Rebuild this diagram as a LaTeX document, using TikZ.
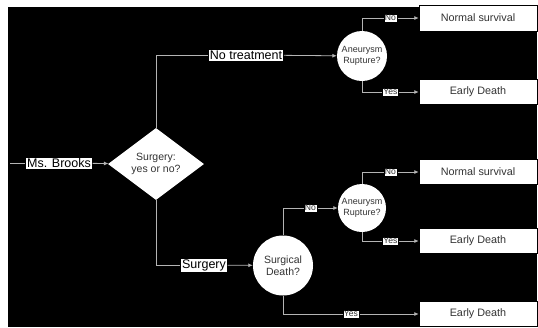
\documentclass[tikz,border=0pt]{standalone}
\usepackage{fontspec}
\setmainfont{Liberation Sans}
\usetikzlibrary{shapes.geometric,arrows.meta}
\definecolor{wirec}{HTML}{B4B4B4}
\definecolor{inkc}{HTML}{333333}

\tikzset{
  wire/.style={draw=wirec, line width=0.8pt},
  arr/.style={wire, -{Latex[length=4.5pt,width=4pt,fill=wirec]}},
  lbl/.style={rectangle, fill=white, draw=black, line width=0.4pt, inner sep=1.5pt,
              text=black, font=\fontsize{12.5}{14}\selectfont},
  tag/.style={rectangle, fill=white, draw=black, line width=0.4pt, inner sep=1.1pt,
              text=inkc, font=\fontsize{8.6}{9.5}\selectfont},
  outcome/.style={rectangle, fill=white, draw=black, line width=0.5pt,
                  minimum width=118, minimum height=25, inner sep=0,
                  text=inkc, font=\fontsize{10.8}{12}\selectfont},
  chance/.style={circle, fill=white, inner sep=0, align=center, text=inkc},
  decision/.style={diamond, fill=white, inner sep=0, minimum width=96, minimum height=72,
                   align=center, text=inkc, font=\fontsize{10.5}{12.5}\selectfont}
}

\begin{document}
\begin{tikzpicture}[x=1pt,y=-1pt]
\useasboundingbox (0,0) rectangle (538,327);
\fill[white] (0,0) rectangle (538,327);
\fill[black] (8,7) rectangle (536.5,327);

% decision and chance nodes
\coordinate (start) at (10,163);
\node[lbl] (brooks) at (59,163) {Ms. Brooks};
\node[decision] (dec) at (156,164) {Surgery:\\yes or no?};
\node[lbl] (notreat) at (246,55) {No treatment};
\node[lbl] (surg) at (204,265) {Surgery};
\node[chance, minimum size=50, font=\fontsize{9}{10.5}\selectfont] (rup1) at (362,56) {Aneurysm\\Rupture?};
\node[chance, minimum size=60, font=\fontsize{10.5}{12.5}\selectfont] (sdeath) at (283,265.5) {Surgical\\Death?};
\node[chance, minimum size=48, font=\fontsize{9}{10.5}\selectfont] (rup2) at (362,208) {Aneurysm\\Rupture?};

% outcomes
\node[outcome, minimum height=26] (ns1) at (478,18) {Normal survival};
\node[outcome] (ed1) at (478,92) {Early Death};
\node[outcome] (ns2) at (478,172) {Normal survival};
\node[outcome] (ed2) at (478,241) {Early Death};
\node[outcome] (ed3) at (478,314) {Early Death};

% connectors
\draw[wire] (start) -- (brooks);
\draw[arr] (brooks) -- (dec);
\draw[wire] (dec.north) |- (notreat);
\draw[arr] (notreat) -- (rup1);
\draw[arr] (rup1.north) |- node[tag, pos=0.75] {No} (ns1);
\draw[arr] (rup1.south) |- node[tag, pos=0.75] {Yes} (ed1);
\draw[wire] (dec.south) |- (surg);
\draw[arr] (surg) -- (sdeath);
\draw[arr] (sdeath.north) |- node[tag, pos=0.75] {No} (rup2);
\draw[arr] (rup2.north) |- node[tag, pos=0.75] {No} (ns2);
\draw[arr] (rup2.south) |- node[tag, pos=0.75] {Yes} (ed2);
\draw[arr] (sdeath.south) |- node[tag, pos=0.75] {Yes} (ed3);
\end{tikzpicture}
\end{document}
